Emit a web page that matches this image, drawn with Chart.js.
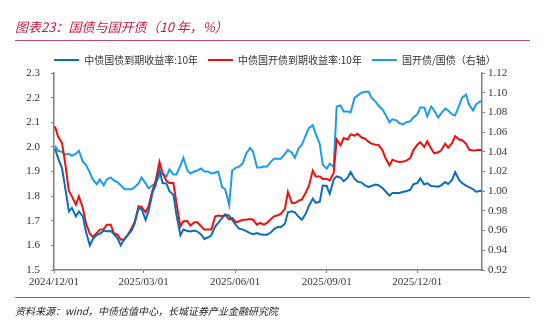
<!DOCTYPE html>
<html lang="zh">
<head>
    <meta charset="UTF-8">
    <title>国债与国开债</title>
    <script src="https://cdn.jsdelivr.net/npm/chart.js"></script>
    <style>
        body {
            margin: 0;
            background: #fff;
        }
        #wrap {
            position: relative;
            width: 550px;
            height: 328px;
        }
        #title {
            position: absolute;
            left: 15px;
            top: 18px;
            font: italic 13px/17px "Noto Sans CJK SC", sans-serif;
            color: #C31A3E;
        }
        .rule {
            position: absolute;
            left: 15px;
            width: 515px;
            border-top: 1.5px solid #C4476A;
        }
        #source {
            position: absolute;
            left: 15px;
            top: 303px;
            font: italic 10px/15px "Noto Sans CJK SC", sans-serif;
            color: #222;
        }
    </style>
</head>
<body>
<div id="wrap">
    <canvas id="myChart" width="550" height="328"></canvas>
    <div id="title">图表23：国债与国开债（10 年，%）</div>
    <div class="rule" style="top:40px"></div>
    <div class="rule" style="top:297px"></div>
    <div id="source">资料来源：wind，中债估值中心，长城证券产业金融研究院</div>
</div>

<script>
    // 交易日（每周两个观测点）
    const dates = [
        '2024-12-02','2024-12-05','2024-12-09','2024-12-12','2024-12-16','2024-12-19','2024-12-23','2024-12-26','2024-12-30',
        '2025-01-02','2025-01-06','2025-01-09','2025-01-13','2025-01-16','2025-01-20','2025-01-23','2025-01-27','2025-01-30',
        '2025-02-03','2025-02-06','2025-02-10','2025-02-13','2025-02-17','2025-02-20','2025-02-24','2025-02-27',
        '2025-03-03','2025-03-06','2025-03-10','2025-03-13','2025-03-17','2025-03-20','2025-03-24','2025-03-27','2025-03-31',
        '2025-04-03','2025-04-07','2025-04-10','2025-04-14','2025-04-17','2025-04-21','2025-04-24','2025-04-28',
        '2025-05-01','2025-05-05','2025-05-08','2025-05-12','2025-05-15','2025-05-19','2025-05-22','2025-05-26','2025-05-29',
        '2025-06-02','2025-06-05','2025-06-09','2025-06-12','2025-06-16','2025-06-19','2025-06-23','2025-06-26','2025-06-30',
        '2025-07-03','2025-07-07','2025-07-10','2025-07-14','2025-07-17','2025-07-21','2025-07-24','2025-07-28','2025-07-31',
        '2025-08-04','2025-08-07','2025-08-11','2025-08-14','2025-08-18','2025-08-21','2025-08-25','2025-08-28',
        '2025-09-01','2025-09-04','2025-09-08','2025-09-11','2025-09-15','2025-09-18','2025-09-22','2025-09-25','2025-09-29',
        '2025-10-02','2025-10-06','2025-10-09','2025-10-13','2025-10-16','2025-10-20','2025-10-23','2025-10-27','2025-10-30',
        '2025-11-03','2025-11-06','2025-11-10','2025-11-13','2025-11-17','2025-11-20','2025-11-24','2025-11-27',
        '2025-12-01','2025-12-04','2025-12-08','2025-12-11','2025-12-15','2025-12-18','2025-12-22','2025-12-25','2025-12-29',
        '2026-01-01','2026-01-05','2026-01-08','2026-01-12','2026-01-15','2026-01-19','2026-01-22','2026-01-26','2026-01-29',
        '2026-02-02','2026-02-04'
    ];

    // 中债国债到期收益率:10年
    const gzYield = [
        1.993,1.955,1.914,1.840,1.738,1.752,1.718,1.738,1.718,
        1.657,1.600,1.626,1.643,1.647,1.660,1.657,1.658,1.647,
        1.628,1.600,1.628,1.641,1.661,1.688,1.752,1.748,
        1.704,1.738,1.815,1.843,1.908,1.853,1.851,1.820,1.806,
        1.725,1.641,1.664,1.658,1.656,1.660,1.656,1.643,
        1.626,1.633,1.641,1.677,1.691,1.712,1.725,1.721,1.703,
        1.681,1.668,1.664,1.658,1.650,1.645,1.650,1.645,1.643,
        1.643,1.653,1.666,1.675,1.675,1.688,1.734,1.738,1.734,
        1.715,1.704,1.729,1.759,1.790,1.773,1.777,1.843,
        1.841,1.809,1.867,1.880,1.875,1.860,1.875,1.898,1.870,
        1.859,1.855,1.845,1.837,1.841,1.847,1.844,1.833,1.820,
        1.802,1.813,1.813,1.813,1.818,1.820,1.826,1.848,
        1.853,1.872,1.847,1.853,1.841,1.840,1.838,1.844,1.857,
        1.849,1.867,1.897,1.866,1.853,1.843,1.837,1.828,1.818,
        1.821,1.822
    ];

    // 中债国开债到期收益率:10年
    const gkYield = [
        2.084,2.043,2.016,1.941,1.820,1.799,1.765,1.799,1.752,
        1.691,1.647,1.634,1.650,1.664,1.666,1.684,1.684,1.650,
        1.643,1.623,1.626,1.642,1.670,1.695,1.759,1.756,
        1.734,1.759,1.824,1.860,1.939,1.894,1.862,1.853,1.853,
        1.772,1.677,1.698,1.699,1.681,1.694,1.694,1.677,
        1.664,1.664,1.664,1.718,1.721,1.718,1.725,1.705,1.711,
        1.694,1.698,1.704,1.704,1.707,1.704,1.684,1.691,1.684,
        1.691,1.707,1.718,1.722,1.729,1.748,1.817,1.772,1.772,
        1.782,1.786,1.815,1.840,1.904,1.880,1.880,1.870,
        1.870,1.864,1.894,2.030,2.006,2.036,2.030,2.051,2.046,
        2.053,2.038,2.034,2.021,2.013,2.009,2.008,1.986,1.955,
        1.925,1.948,1.941,1.939,1.941,1.944,1.955,1.986,
        2.009,2.019,2.000,2.023,1.992,1.974,1.978,1.986,2.013,
        1.997,2.016,2.044,2.030,2.027,2.013,1.989,1.985,1.986,
        1.988,1.986
    ];

    // 国开债/国债（右轴）
    const gkGzRatio = [
        1.046,1.041,1.040,1.037,1.038,1.036,1.038,1.041,1.030,
        1.027,1.019,1.012,1.007,1.012,1.006,1.012,1.014,1.011,
        1.009,1.006,1.002,1.002,1.002,1.004,1.008,1.014,
        1.008,1.003,1.006,1.008,1.016,1.018,1.015,1.022,1.017,
        1.017,1.026,1.034,1.021,1.018,1.020,1.021,1.023,
        1.020,1.020,1.018,1.019,1.020,1.004,1.002,0.986,1.021,
        1.024,1.025,1.029,1.038,1.044,1.040,1.024,1.024,1.025,
        1.025,1.030,1.033,1.033,1.033,1.038,1.042,1.039,1.034,
        1.044,1.047,1.057,1.064,1.067,1.058,1.048,1.027,
        1.023,1.028,1.025,1.086,1.087,1.081,1.081,1.080,1.095,
        1.097,1.100,1.101,1.101,1.095,1.091,1.087,1.083,1.078,
        1.070,1.073,1.072,1.069,1.068,1.070,1.071,1.075,
        1.078,1.085,1.085,1.076,1.086,1.082,1.075,1.079,1.084,
        1.082,1.078,1.077,1.087,1.095,1.098,1.088,1.082,1.088,
        1.091,1.092
    ];

    const tickDates = ['2024-12-01', '2025-03-01', '2025-06-01', '2025-09-01', '2025-12-01'];
    const tickLabels = ['2024/12/01', '2025/03/01', '2025/06/01', '2025/09/01', '2025/12/01'];
    const axisStart = '2024-12-01';
    const axisEnd = '2026-02-04';

    // 日期 -> 距 axisStart 的天数
    function dayOf(s) {
        const p = s.split('-').map(Number);
        const p0 = axisStart.split('-').map(Number);
        return (Date.UTC(p[0], p[1] - 1, p[2]) - Date.UTC(p0[0], p0[1] - 1, p0[2])) / 86400000;
    }

    function series(values) {
        return dates.map((d, i) => ({ x: dayOf(d), y: values[i] }));
    }

    const axisColor = '#7f7f7f';
    const tickFont = { family: "'Liberation Serif', serif", size: 11 };

    const legendHeight = {
        id: 'legendHeight',
        beforeInit(chart) {
            const fit = chart.legend.fit;
            chart.legend.fit = function () {
                fit.bind(chart.legend)();
                this.height = 28;
            };
        }
    };

    const ctx = document.getElementById('myChart').getContext('2d');
    new Chart(ctx, {
        type: 'line',
        data: {
            datasets: [{
                label: '中债国债到期收益率:10年',
                data: series(gzYield),
                borderColor: '#0B6EBA',
                backgroundColor: '#0B6EBA',
                borderWidth: 2,
                yAxisID: 'y'
            }, {
                label: '中债国开债到期收益率:10年',
                data: series(gkYield),
                borderColor: '#F01010',
                backgroundColor: '#F01010',
                borderWidth: 2,
                yAxisID: 'y'
            }, {
                label: '国开债/国债（右轴）',
                data: series(gkGzRatio),
                borderColor: '#1E9BEA',
                backgroundColor: '#1E9BEA',
                borderWidth: 2,
                yAxisID: 'y1'
            }]
        },
        options: {
            responsive: false,
            animation: false,
            devicePixelRatio: 1,
            elements: {
                point: { radius: 0 },
                line: { tension: 0 }
            },
            layout: { padding: { top: 45, left: 0, right: 0, bottom: 0 } },
            plugins: {
                legend: {
                    position: 'top',
                    labels: {
                        boxWidth: 25,
                        boxHeight: 0,
                        padding: 10,
                        color: '#333',
                        font: { family: "'Noto Sans CJK SC', sans-serif", size: 10 }
                    }
                },
                tooltip: { enabled: false }
            },
            scales: {
                x: {
                    type: 'linear',
                    min: 0,
                    max: dayOf(axisEnd),
                    afterBuildTicks: scale => {
                        scale.ticks = tickDates.map(d => ({ value: dayOf(d) }));
                    },
                    afterFit: scale => { scale.height = 58; },
                    ticks: {
                        autoSkip: false,
                        maxRotation: 0,
                        padding: 3,
                        color: '#333',
                        font: tickFont,
                        callback: value => {
                            const i = tickDates.findIndex(d => dayOf(d) === value);
                            return i >= 0 ? tickLabels[i] : '';
                        }
                    },
                    grid: { drawOnChartArea: false, color: axisColor, tickLength: 3 },
                    border: { color: axisColor, width: 1.5 }
                },
                y: {
                    position: 'left',
                    min: 1.5,
                    max: 2.3,
                    afterFit: scale => { scale.width = 54; },
                    ticks: {
                        stepSize: 0.1,
                        padding: 11,
                        color: '#333',
                        font: tickFont,
                        callback: v => v.toFixed(1)
                    },
                    grid: { drawOnChartArea: false, color: axisColor, tickLength: 3 },
                    border: { color: axisColor, width: 1.5 }
                },
                y1: {
                    position: 'right',
                    min: 0.92,
                    max: 1.12,
                    afterFit: scale => { scale.width = 68; },
                    ticks: {
                        stepSize: 0.02,
                        padding: 3,
                        color: '#333',
                        font: tickFont,
                        callback: v => v.toFixed(2)
                    },
                    grid: { drawOnChartArea: false, color: axisColor, tickLength: 3 },
                    border: { color: axisColor, width: 1.5 }
                }
            }
        },
        plugins: [legendHeight]
    });
</script>
</body>
</html>
